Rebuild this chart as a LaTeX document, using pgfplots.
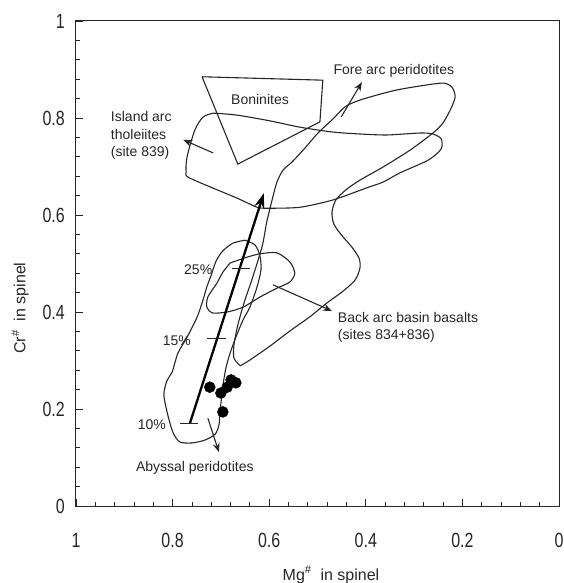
\documentclass[border=0pt]{standalone}
\usepackage{fontspec}
\setmainfont{Liberation Sans}
\newfontfamily\tickfont[FakeStretch=0.78]{Liberation Sans}
\usepackage{pgfplots}
\pgfplotsset{compat=1.18}
\usetikzlibrary{arrows.meta}
\begin{document}
\begin{tikzpicture}
\begin{axis}[name=ax, scale only axis, width=483pt, height=485pt,
  xmin=0, xmax=1, ymin=0, ymax=1, x dir=reverse,
  xtick={0,0.2,0.4,0.6,0.8,1}, ytick={0,0.2,0.4,0.6,0.8,1}, minor tick num=4,
  xtick pos=left, ytick pos=left, tick align=inside,
  major tick length=7pt, minor tick length=4pt,
  axis line style={line width=1pt, black!85},
  tick style={line width=0.8pt, black!85},
  /pgf/number format/assume math mode=true,
  ticklabel style={font=\tickfont\fontsize{20.5}{24}\selectfont, inner sep=0pt, text=black!85},
  xticklabel style={anchor=base, yshift=-41pt},
  yticklabel style={anchor=east, xshift=-11pt},
  xlabel={Mg\textsuperscript{\#}\ \ in spinel},
  ylabel={Cr\textsuperscript{\#}\ \ in spinel},
  xlabel style={at={(axis description cs:0.528,-0.142)}, anchor=center, font=\fontsize{16}{19}\selectfont, inner sep=0pt, text=black!85},
  ylabel style={at={(axis description cs:-0.116,0.408)}, anchor=center, font=\fontsize{16}{19}\selectfont, inner sep=0pt, text=black!85},
  clip=false,
  outline/.style={black!85, line width=1.1pt, smooth, tension=0.45},
]
% Abyssal peridotites field
\addplot[outline] coordinates {
(0.650,0.548) (0.629,0.538) (0.619,0.515) (0.617,0.487) (0.625,0.452) (0.640,0.410)
(0.654,0.384) (0.669,0.348) (0.681,0.315) (0.689,0.287) (0.694,0.260) (0.698,0.229)
(0.702,0.192) (0.704,0.167) (0.712,0.148) (0.733,0.136) (0.760,0.130) (0.785,0.132)
(0.799,0.151) (0.810,0.188) (0.818,0.229) (0.812,0.258) (0.801,0.276) (0.789,0.315)
(0.770,0.348) (0.749,0.390) (0.737,0.425) (0.729,0.452) (0.720,0.476) (0.710,0.505)
(0.696,0.526) (0.675,0.542) (0.650,0.548)};
% Fore arc peridotites field
\addplot[outline] coordinates {
(0.660,0.289) (0.673,0.305) (0.673,0.332) (0.665,0.373) (0.652,0.419) (0.636,0.466)
(0.623,0.507) (0.613,0.542) (0.605,0.586) (0.594,0.631) (0.584,0.668) (0.571,0.693)
(0.553,0.709) (0.526,0.738) (0.499,0.769) (0.468,0.798) (0.443,0.823) (0.412,0.837)
(0.344,0.856) (0.288,0.866) (0.240,0.872) (0.222,0.864) (0.215,0.845) (0.222,0.823)
(0.240,0.790) (0.261,0.769) (0.308,0.734) (0.364,0.699) (0.412,0.672) (0.441,0.652)
(0.462,0.631) (0.470,0.606) (0.466,0.581) (0.449,0.557) (0.429,0.534) (0.414,0.511)
(0.412,0.491) (0.422,0.466) (0.447,0.443) (0.480,0.419) (0.516,0.390) (0.557,0.361)
(0.598,0.330) (0.640,0.301) (0.660,0.289)};
% Island arc tholeiites field
\addplot[outline] coordinates {
(0.716,0.810) (0.667,0.806) (0.598,0.794) (0.536,0.781) (0.468,0.771) (0.412,0.767)
(0.356,0.765) (0.288,0.769) (0.261,0.767) (0.244,0.757) (0.244,0.736) (0.271,0.713)
(0.329,0.687) (0.364,0.668) (0.398,0.656) (0.468,0.631) (0.536,0.616) (0.598,0.614)
(0.625,0.616) (0.667,0.635) (0.764,0.676) (0.772,0.689) (0.770,0.720) (0.754,0.775)
(0.737,0.802) (0.716,0.810)};
% Back arc basin basalts field
\addplot[outline] coordinates {
(0.681,0.501) (0.646,0.513) (0.619,0.520) (0.584,0.522) (0.557,0.503) (0.547,0.480)
(0.557,0.462) (0.584,0.449) (0.619,0.431) (0.654,0.410) (0.687,0.400) (0.718,0.398)
(0.729,0.410) (0.727,0.431) (0.708,0.460) (0.696,0.482) (0.681,0.501)};
% Boninites field
\addplot[black!85, line width=1.1pt] coordinates {
(0.739,0.885) (0.489,0.878) (0.495,0.792) (0.665,0.705) (0.739,0.885)};
% melting trend
\addplot[black, line width=2.3pt, -{Stealth[length=15pt,width=10pt]}] coordinates {(0.764,0.171) (0.611,0.645)};
\addplot[black!85, line width=1.1pt] coordinates {(0.785,0.171) (0.747,0.171)};
\addplot[black!85, line width=1.1pt] coordinates {(0.729,0.346) (0.689,0.346)};
\addplot[black!85, line width=1.1pt] coordinates {(0.677,0.489) (0.640,0.489)};
% label arrows
\addplot[black!85, line width=1.1pt, -{Stealth[length=9pt,width=7pt]}] coordinates {(0.716,0.728) (0.778,0.755)};
\addplot[black!85, line width=1.1pt, -{Stealth[length=9pt,width=7pt]}] coordinates {(0.451,0.802) (0.408,0.874)};
\addplot[black!85, line width=1.1pt, -{Stealth[length=9pt,width=7pt]}] coordinates {(0.592,0.456) (0.470,0.402)};
\addplot[black!85, line width=1.1pt, -{Stealth[length=9pt,width=7pt]}] coordinates {(0.727,0.181) (0.704,0.111)};
% samples
\addplot[only marks, mark=*, mark size=5.5pt, black] coordinates {
(0.723,0.245) (0.700,0.233) (0.687,0.245) (0.679,0.260) (0.669,0.254) (0.696,0.194)};
% labels
\begin{scope}[every node/.style={font=\fontsize{14}{17.5}\selectfont, inner sep=0pt, text=black!85}]
\node at (axis cs:0.619,0.839) {Boninites};
\node at (axis cs:0.342,0.897) {Fore arc peridotites};
\node[anchor=west, align=left] at (axis cs:0.928,0.764) {Island arc\\tholeiites\\(site 839)};
\node[anchor=west, align=left] at (axis cs:0.458,0.368) {Back arc basin basalts\\(sites 834+836)};
\node at (axis cs:0.754,0.078) {Abyssal peridotites};
\node at (axis cs:0.747,0.487) {25\%};
\node at (axis cs:0.791,0.340) {15\%};
\node at (axis cs:0.843,0.167) {10\%};
\end{scope}
\end{axis}
\pgfresetboundingbox
\path[use as bounding box] ([shift={(-76pt,-77pt)}]ax.south west) rectangle ([shift={(487pt,506pt)}]ax.south west);
\end{tikzpicture}
\end{document}
